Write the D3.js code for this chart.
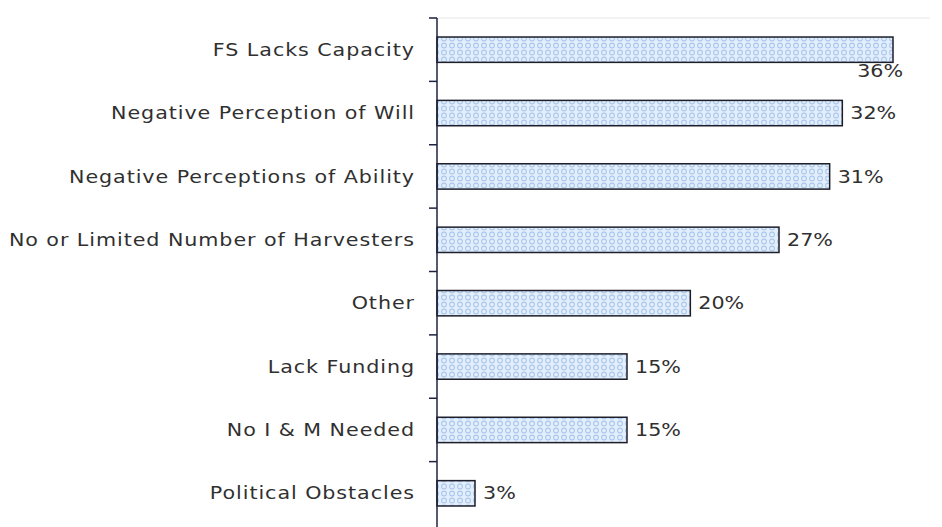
<!DOCTYPE html>
<html>
<head>
<meta charset="utf-8">
<script src="https://cdn.jsdelivr.net/npm/d3@7"></script>
<style>
  html, body { margin: 0; padding: 0; background: #ffffff; }
  svg { display: block; }
  text { font-family: "DejaVu Sans", Verdana, sans-serif; fill: #303030; }
</style>
</head>
<body>
<svg id="chart" width="942" height="527"></svg>
<script>
// Obstacles to inspection & maintenance, share of respondents
const categories = [
  "FS Lacks Capacity",
  "Negative Perception of Will",
  "Negative Perceptions of Ability",
  "No or Limited Number of Harvesters",
  "Other",
  "Lack Funding",
  "No I & M Needed",
  "Political Obstacles"
];
const values = [36, 32, 31, 27, 20, 15, 15, 3];
const valueLabels = ["36%", "32%", "31%", "27%", "20%", "15%", "15%", "3%"];

const svg = d3.select("#chart");
const plotLeft = 437, plotRight = 893, plotTop = 18, plotBottom = 525;
const widen = 1.18; // horizontal stretch for the wide label typeface

const x = d3.scaleLinear().domain([0, 36]).range([plotLeft, plotRight]);
const y = d3.scaleBand().domain(categories).range([plotTop, plotBottom]).paddingInner(0.6).paddingOuter(0.3);

// Dotted light-blue hatch used inside the bars
const defs = svg.append("defs");
const pat = defs.append("pattern")
  .attr("id", "dots").attr("patternUnits", "userSpaceOnUse")
  .attr("width", 8).attr("height", 7);
pat.append("rect").attr("width", 8).attr("height", 7).attr("fill", "#e4eefa");
pat.append("circle").attr("cx", 4).attr("cy", 3.5).attr("r", 2.4)
  .attr("fill", "none").attr("stroke", "#a9c9ee").attr("stroke-width", 1.1);

// faint top frame line
svg.append("line").attr("x1", plotLeft - 8).attr("x2", 930).attr("y1", plotTop).attr("y2", plotTop)
  .attr("stroke", "#e6e6e6").attr("stroke-width", 1);

// bars
svg.append("g").selectAll("rect").data(values).join("rect")
  .attr("x", x(0))
  .attr("y", (d, i) => y(categories[i]))
  .attr("width", d => x(d) - x(0))
  .attr("height", y.bandwidth())
  .attr("fill", "url(#dots)")
  .attr("stroke", "#1e1e2a").attr("stroke-width", 1.5);

// category axis with ticks between bands
const step = y.step();
const axisG = svg.append("g");
axisG.append("line").attr("x1", plotLeft).attr("x2", plotLeft).attr("y1", plotTop).attr("y2", plotBottom + 2)
  .attr("stroke", "#1c2340").attr("stroke-width", 1.5);
const tickYs = d3.range(categories.length).map(i => plotTop + i * step);
axisG.selectAll("line.tick").data(tickYs).join("line").attr("class", "tick")
  .attr("x1", plotLeft - 8).attr("x2", plotLeft).attr("y1", d => d).attr("y2", d => d)
  .attr("stroke", "#1c2340").attr("stroke-width", 1.5);

// category labels
svg.append("g").selectAll("text").data(categories).join("text")
  .attr("transform", d => `translate(${plotLeft - 22},${y(d) + y.bandwidth() / 2}) scale(${widen},1)`)
  .attr("dy", "0.35em")
  .attr("text-anchor", "end")
  .attr("font-size", 17.5)
  .attr("letter-spacing", 0.8)
  .text(d => d);

// value labels
svg.append("g").selectAll("text").data(values).join("text")
  .attr("transform", (d, i) => {
    const tx = i === 0 ? x(d) + 10 : x(d) + 8;
    const ty = i === 0 ? y(categories[i]) + y.bandwidth() + 9 : y(categories[i]) + y.bandwidth() / 2;
    return `translate(${tx},${ty}) scale(${widen},1)`;
  })
  .attr("dy", "0.35em")
  .attr("text-anchor", (d, i) => i === 0 ? "end" : "start")
  .attr("font-size", 17.5)
  .text((d, i) => valueLabels[i]);
</script>
</body>
</html>
